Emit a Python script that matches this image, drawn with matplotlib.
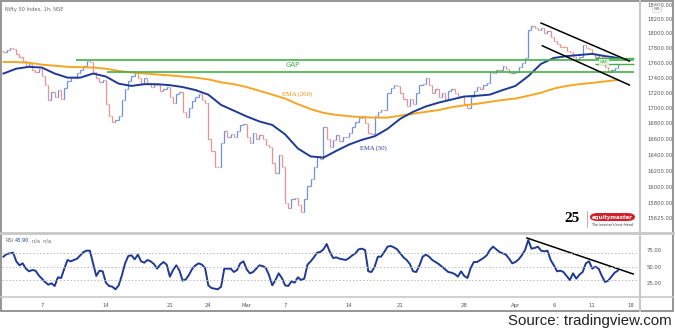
import numpy as np
import matplotlib.pyplot as plt
from matplotlib.ticker import NullLocator
from matplotlib.lines import Line2D
from matplotlib.patches import Rectangle, FancyBboxPatch

# Nifty 50, hourly chart Feb 2 - Apr 13 2022 (4 samples per trading day)
closes = [
    17740, 17770, 17800, 17780, 17720, 17680, 17620, 17560, 17580, 17500, 17470, 17516,
    17420, 17300, 17110, 17213, 17150, 17230, 17120, 17266, 17350, 17410, 17390, 17463,
    17500, 17560, 17620, 17605, 17480, 17400, 17340, 17374, 17050, 16900, 16820, 16842,
    16900, 17100, 17250, 17352, 17420, 17480, 17400, 17322, 17400, 17330, 17280, 17304,
    17300, 17220, 17250, 17276, 17150, 17060, 17180, 17206, 16950, 16880, 17000, 17092,
    17150, 17180, 17100, 17063, 16600, 16450, 16250, 16247, 16550, 16700, 16620, 16658,
    16620, 16700, 16780, 16794, 16620, 16550, 16680, 16606, 16650, 16600, 16530, 16498,
    16300, 16170, 16400, 16245, 15800, 15750, 15850, 15863, 15780, 15700, 15850, 16013,
    16100, 16250, 16380, 16345, 16750, 16600, 16500, 16594, 16650, 16580, 16620, 16630,
    16680, 16750, 16820, 16871, 16900, 16800, 16680, 16663, 16900, 16950, 16980, 16975,
    17200, 17260, 17300, 17287, 17200, 17120, 17020, 17117, 17050, 17200, 17300, 17316,
    17400, 17300, 17200, 17245, 17150, 17200, 17120, 17223, 17250, 17200, 17160, 17153,
    17050, 17000, 17150, 17222, 17280, 17250, 17300, 17325, 17480, 17460, 17500, 17498,
    17550, 17520, 17460, 17465, 17480, 17540, 17600, 17670, 18050, 18100, 18080, 18053,
    18080, 18000, 18030, 17957, 17900, 17850, 17820, 17807, 17760, 17740, 17680, 17640,
    17680, 17840, 17800, 17784, 17720, 17680, 17700, 17675, 17540, 17480, 17500, 17530,
    17570,
]
# one value per trading day
ema50 = [
    17455, 17520, 17545, 17535, 17455, 17400, 17400, 17455, 17415, 17320,
    17290, 17313, 17313, 17300, 17275, 17235, 17175, 17040, 16965, 16890,
    16825, 16780, 16660, 16480, 16380, 16365, 16450, 16530, 16590, 16635,
    16730, 16860, 16950, 17020, 17070, 17110, 17150, 17160, 17175, 17235,
    17290, 17420, 17585, 17665, 17690, 17705, 17720, 17690, 17665,
]
ema200 = [
    17610, 17610, 17600, 17574, 17560, 17545, 17540, 17535, 17520, 17490,
    17470, 17455, 17442, 17430, 17415, 17400, 17377, 17338, 17313, 17275,
    17225, 17175, 17123, 17050, 16985, 16936, 16910, 16893, 16880, 16875,
    16875, 16900, 16925, 16950, 16973, 17010, 17035, 17055, 17080, 17105,
    17123, 17160, 17200, 17255, 17290, 17313, 17330, 17350, 17370,
]
# same spacing as closes
rsi = [
    65, 69, 70, 71, 58, 52, 55, 47, 43, 45, 44, 37, 32, 27, 23, 25, 21, 34, 33, 47,
    60, 58, 60, 62, 67, 72, 74, 74, 55, 36, 44, 43, 26, 21, 20, 16, 22, 37, 55, 66,
    67, 61, 68, 58, 56, 60, 58, 54, 47, 53, 57, 53, 35, 45, 52, 44, 29, 31, 38, 47,
    52, 55, 53, 48, 22, 18, 17, 16, 20, 47, 47, 47, 42, 45, 55, 58, 46, 40, 42, 47,
    52, 51, 48, 37, 22, 30, 40, 33, 22, 21, 28, 26, 34, 30, 32, 53, 58, 64, 71, 72,
    76, 84, 72, 63, 64, 62, 61, 60, 63, 67, 70, 76, 77, 75, 43, 42, 50, 65, 65, 72,
    80, 81, 79, 76, 70, 64, 60, 54, 43, 42, 52, 65, 68, 65, 60, 57, 54, 50, 46, 42,
    41, 39, 35, 43, 36, 33, 48, 57, 57, 60, 63, 67, 75, 80, 76, 72, 70, 68, 62, 55,
    57, 61, 67, 75, 90, 77, 78, 80, 74, 73, 74, 60, 52, 43, 44, 42, 36, 30, 40, 32,
    38, 42, 55, 58, 47, 50, 47, 36, 27, 29, 35, 41, 44,
]
per_day = 4

date_ticks = [3, 8, 13, 16, 19, 22, 27, 31, 36, 40, 43, 46, 49]
date_labels = ['7', '14', '21', '24', 'Mar', '7', '14', '21', '28', 'Apr', '6', '11', '18']
price_ticks = [18400, 18200, 18000, 17800, 17600, 17400, 17200, 17000,
               16800, 16600, 16400, 16200, 16000, 15800, 15625]
rsi_ticks = [75, 50, 25]
rsi_levels = [70, 50, 30]

gap_top, gap_bottom = 17640, 17475
small_gap = [17664, 17587]
channel_upper = ([42.0, 48.9], [18144, 17623])
channel_lower = ([42.1, 48.9], [17830, 17302])
rsi_trend = ([40.9, 49.2], [93, 39])

W, H = 675, 332
fig = plt.figure(figsize=(W / 100, H / 100), dpi=100)


def box(l, t, r, b):
    return [l / W, 1 - b / H, (r - l) / W, (b - t) / H]


def px(x, y):
    return x / W, 1 - y / H


ax = fig.add_axes(box(2, 3, 640, 233))
ax2 = fig.add_axes(box(2, 233, 640, 297), sharex=ax)

# price bars
x = np.arange(len(closes)) / per_day
c = np.array(closes, dtype=float)
o = np.r_[c[0] + 20, c[:-1]]
cols = np.where(c >= o, '#6f90db', '#ee9090')
ax.vlines(x, o, c, colors=cols, lw=0.9)
ax.hlines(o, x - 0.1, x, colors=cols, lw=0.9)
ax.hlines(c, x, x + 0.1, colors=cols, lw=0.9)

days = np.arange(len(ema50))
ax.plot(days, ema200, color='#f5a623', lw=1.4)
ax.plot(days, ema50, color='#1f3a93', lw=1.4)

gcol = '#43b04a'
ax.hlines(gap_top, 5.66, 49.3, color=gcol, lw=1.2)
ax.hlines(gap_bottom, 8.1, 49.3, color=gcol, lw=1.2)
ax.hlines(small_gap, 46.2, 49.3, color=gcol, lw=1.0)
ax.text(22.6, 17574, 'GAP', color=gcol, fontsize=5, ha='center', va='center')
ax.text(46.9, 17610, 'GAP', color=gcol, fontsize=2.8, ha='center', va='center',
        bbox=dict(boxstyle='square,pad=0.2', fc='#dff0dc', ec='none'))
ax.plot(*channel_upper, color='black', lw=1.1)
ax.plot(*channel_lower, color='black', lw=1.1)

ax.text(22.9, 17186, 'EMA (200)', color='#f08c00', fontsize=4.8,
        family='Liberation Serif', ha='center', va='center')
ax.text(28.9, 16481, 'EMA (50)', color='#1f3a93', fontsize=4.8,
        family='Liberation Serif', ha='center', va='center')

ax.set_yscale('log')
ax.set_ylim(15446, 18425)
ax.set_xlim(-0.117, 49.73)
ax.yaxis.set_minor_locator(NullLocator())
ax.set_yticks(price_ticks, [f'{v:.2f}' for v in price_ticks])
ax.yaxis.tick_right()
ax.tick_params(axis='y', length=0, pad=5, labelsize=3.8, labelcolor='#555555')
ax.tick_params(axis='x', bottom=False, labelbottom=False)

# RSI pane
ax2.plot(np.arange(len(rsi)) / per_day, rsi, color='#1f3a93', lw=1.4)
ax2.plot(*rsi_trend, color='black', lw=1.1)
for lv in rsi_levels:
    ax2.axhline(lv, color='#bbbbbb', lw=0.7, ls=(0, (1.5, 2)))
ax2.set_ylim(4.5, 100.5)
ax2.set_yticks(rsi_ticks, [f'{v:.2f}' for v in rsi_ticks])
ax2.yaxis.tick_right()
ax2.tick_params(axis='y', length=0, pad=5, labelsize=3.8, labelcolor='#555555')
ax2.set_xticks(date_ticks, date_labels)
ax2.tick_params(axis='x', length=0, pad=4, labelsize=3.8, labelcolor='#555555')

for a in (ax, ax2):
    for s in a.spines.values():
        s.set_visible(False)

# frame and separators
fig.add_artist(Rectangle(px(1, 311), 672 / W, 310 / H, fill=False,
                         ec='#8c8c8c', lw=1.3, transform=fig.transFigure))
for (x0, y0, x1, y1, lw) in [(640, 1, 640, 311, 1.5), (1, 233, 673, 233, 2.0),
                             (1, 297, 673, 297, 1.2)]:
    p0, p1 = px(x0, y0), px(x1, y1)
    fig.add_artist(Line2D([p0[0], p1[0]], [p0[1], p1[1]], color='#c8c8c8', lw=lw,
                          transform=fig.transFigure))

fig.text(*px(5, 10), 'Nifty 50 Index, 1h, NSE', fontsize=3.6, color='#666666', va='center')
fig.text(*px(5, 241), 'RSI', fontsize=3.6, color='#666666', va='center')
fig.text(*px(14.5, 241), '43.90', fontsize=3.6, color='#1f3a93', va='center')
fig.text(*px(31.5, 241), 'n/a  n/a', fontsize=3.6, color='#666666', va='center')
fig.text(*px(657, 9), 'INR', fontsize=2.8, color='#555555', ha='center', va='center',
         bbox=dict(boxstyle='round,pad=0.3', fc='white', ec='#bbbbbb', lw=0.4))

# logo
fig.text(*px(572, 219), '25', fontsize=11, family='Liberation Serif', weight='bold',
         ha='center', va='center')
fig.add_artist(Line2D([587 / W, 587 / W], [1 - 211 / H, 1 - 227 / H], color='#999999',
                      lw=0.5, transform=fig.transFigure))
fig.add_artist(FancyBboxPatch(px(590, 221), 45 / W, 8 / H,
                              boxstyle='round,pad=0,rounding_size=0.012',
                              fc='#d3202b', ec='none', transform=fig.transFigure))
fig.text(*px(612.5, 217), 'equitymaster', fontsize=3.9, color='white', weight='bold',
         style='italic', ha='center', va='center')
fig.text(*px(612, 224.5), "The investor's best friend", fontsize=2.3, color='#333333',
         ha='center', va='center')

fig.text(*px(672, 321), 'Source: tradingview.com', fontsize=10.8, family='Liberation Sans',
         color='#222222', ha='right', va='center')

fig.savefig('out.png', dpi=100)
